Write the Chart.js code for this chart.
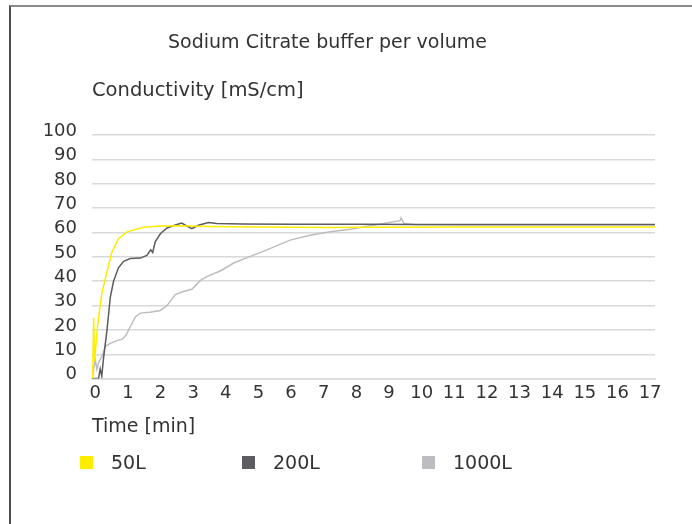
<!DOCTYPE html>
<html>
<head>
<meta charset="utf-8">
<title>Sodium Citrate buffer per volume</title>
<script src="https://cdn.jsdelivr.net/npm/chart.js@4.4.1/dist/chart.umd.min.js"></script>
<style>
    body { margin: 0; background: #fff; }
    #wrap { position: relative; width: 692px; height: 524px; overflow: hidden; }
    #frame {
        position: absolute; left: 9px; top: 5px; width: 800px; height: 600px;
        border-left: 2px solid #4d4d4d; border-top: 2px solid #8a8a8a;
    }
    #my-chart { position: absolute; left: 0; top: 0; }
    #legend {
        position: absolute; left: 0; top: 450px; width: 692px; height: 24px;
        font: 19px "DejaVu Sans", sans-serif; color: #333;
    }
    .item { position: absolute; top: 0; height: 24px; display: flex; align-items: center; }
    .box { width: 13px; height: 13px; margin-right: 18px; }
</style>
</head>
<body>
<div id="wrap">
    <div id="frame"></div>
    <canvas id="my-chart" width="692" height="524"></canvas>
    <div id="legend"></div>
</div>
<script>
// * Conductivity over time for three buffer volumes

const seriesNames = ['50L', '200L', '1000L']
const seriesColors = ['#ffed00', '#5c5c61', '#bcbcc1']

// 50L
const time50 = [-0.08, -0.05, -0.02, 0.05, 0.12, 0.2, 0.36, 0.51, 0.71, 0.97, 1.48, 2.0, 2.6, 3.5, 5, 7, 9, 11, 13, 15, 17.15]
const cond50 = [0, 25, 7, 19, 27, 35, 44, 52, 57.5, 60.3, 62.2, 62.7, 62.8, 62.5, 62.3, 62.1, 62.2, 62.3, 62.3, 62.3, 62.3]

// 200L
const time200 = [-0.1, 0.1, 0.15, 0.2, 0.25, 0.36, 0.46, 0.56, 0.71, 0.87, 1.07, 1.38, 1.58, 1.7, 1.76, 1.84, 2.0, 2.2, 2.5, 2.65, 2.8, 2.96, 3.16, 3.47, 3.72, 4.5, 6, 8, 10, 13, 17.15]
const cond200 = [0, 0, 4, 1, 8, 20, 33.4, 40, 45.5, 48.2, 49.3, 49.5, 50.6, 52.9, 51.8, 56.3, 59.6, 61.9, 63.3, 63.9, 62.7, 61.6, 63, 64.1, 63.7, 63.5, 63.4, 63.4, 63.3, 63.3, 63.3]

// 1000L
const time1000 = [-0.1, 0.0, 0.05, 0.1, 0.2, 0.31, 0.46, 0.66, 0.82, 0.95, 1.07, 1.23, 1.38, 1.68, 1.99, 2.2, 2.45, 2.7, 2.96, 3.06, 3.26, 3.52, 3.83, 4.24, 4.75, 5.26, 5.97, 6.58, 7.2, 7.81, 8.52, 9.34, 9.37, 9.46, 9.75, 11, 13, 15, 17.15]
const cond1000 = [0, 7.8, 3.8, 6.5, 9, 13.2, 14.5, 15.6, 16.1, 18, 21.3, 25.3, 26.9, 27.3, 28, 30, 34.5, 35.8, 36.7, 38.1, 40.8, 42.5, 44.2, 47.5, 50.2, 52.9, 56.9, 58.9, 60.3, 61.4, 63, 64.9, 66, 63.7, 63.3, 63.2, 63.2, 63.2, 63.2]

const xTicks = [0, 1, 2, 3, 4, 5, 6, 7, 8, 9, 10, 11, 12, 13, 14, 15, 16, 17]
const yTicks = [0, 10, 20, 30, 40, 50, 60, 70, 80, 90, 100]

const font = 'DejaVu Sans'
const textColor = '#333'
const gridColor = '#d9d9d9'

function toPoints(xs, ys) {
    return xs.map((x, i) => ({ x: x, y: ys[i] }))
}

const allTimes = [time50, time200, time1000]
const allConds = [cond50, cond200, cond1000]

const datasets = seriesNames.map((name, i) => ({
    label: name,
    data: toPoints(allTimes[i], allConds[i]),
    borderColor: seriesColors[i],
    backgroundColor: seriesColors[i],
    borderWidth: 1.5,
    pointRadius: 0,
    tension: 0
}))

// legend drawn as html so the items can sit where they sit in the original
const legendX = [80, 242, 422]
const htmlLegend = {
    id: 'htmlLegend',
    afterUpdate(chart) {
        const box = document.getElementById('legend')
        box.innerHTML = ''
        chart.data.datasets.forEach((ds, i) => {
            const item = document.createElement('div')
            item.className = 'item'
            item.style.left = legendX[i] + 'px'
            const mark = document.createElement('span')
            mark.className = 'box'
            mark.style.background = ds.borderColor
            const label = document.createElement('span')
            label.textContent = ds.label
            item.appendChild(mark)
            item.appendChild(label)
            box.appendChild(item)
        })
    }
}

const ctx = document.getElementById('my-chart')

new Chart(ctx, {
    type: 'line',
    data: { datasets: datasets },
    plugins: [htmlLegend],
    options: {
        responsive: false,
        animation: false,
        layout: { padding: { left: 0, right: 37, top: 22, bottom: 82 } },
        plugins: {
            legend: { display: false },
            tooltip: { enabled: false },
            title: {
                display: true,
                text: 'Sodium Citrate buffer per volume',
                color: textColor,
                font: { family: font, size: 19, weight: 'normal' },
                padding: { top: 10, bottom: 0 }
            },
            subtitle: {
                display: true,
                text: 'Conductivity [mS/cm]',
                align: 'start',
                fullSize: false,
                color: textColor,
                font: { family: font, size: 19.5, weight: 'normal' },
                padding: { top: 24, bottom: 33 }
            }
        },
        scales: {
            x: {
                type: 'linear',
                min: -0.1,
                max: 17.15,
                afterBuildTicks: (scale) => {
                    scale.ticks = xTicks.map((v) => ({ value: v }))
                },
                grid: { display: false, drawTicks: false },
                border: { display: true, color: gridColor, width: 1.5 },
                ticks: {
                    color: textColor,
                    font: { family: font, size: 18 },
                    padding: 4,
                    autoSkip: false,
                    maxRotation: 0
                },
                title: {
                    display: true,
                    text: 'Time [min]',
                    align: 'start',
                    color: textColor,
                    font: { family: font, size: 19 },
                    padding: { top: 7, bottom: 4 }
                }
            },
            y: {
                min: 0,
                max: 100,
                afterBuildTicks: (scale) => {
                    scale.ticks = yTicks.map((v) => ({ value: v }))
                },
                afterFit: (scale) => {
                    scale.width = 92
                },
                grid: { color: gridColor, lineWidth: 1.5, drawTicks: false },
                border: { display: false },
                ticks: {
                    color: textColor,
                    font: { family: font, size: 18 },
                    padding: 15,
                    labelOffset: -4,
                    autoSkip: false
                }
            }
        }
    }
})
</script>
</body>
</html>
